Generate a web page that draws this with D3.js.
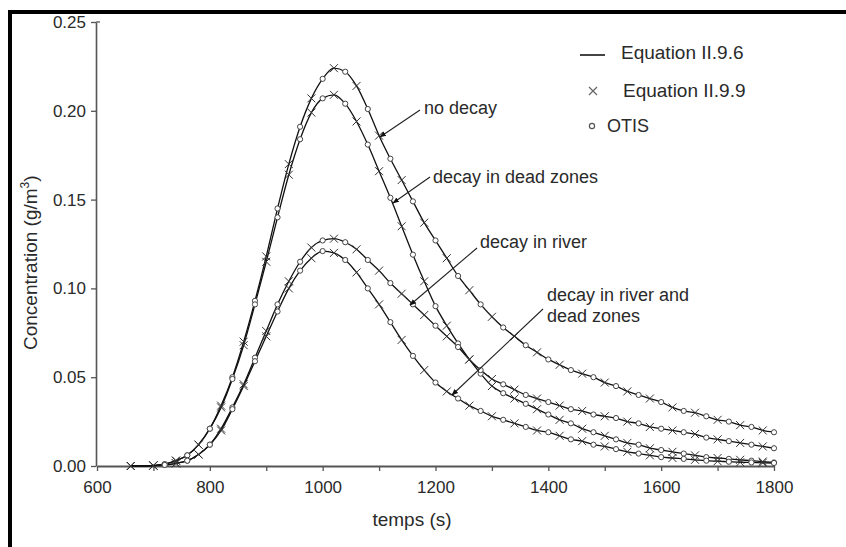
<!DOCTYPE html>
<html>
<head>
<meta charset="utf-8">
<script src="https://cdn.jsdelivr.net/npm/d3@7"></script>
<style>
  body { margin: 0; background: #fff; }
  svg { display: block; }
  text { font-family: "Liberation Sans", Arial, sans-serif; fill: #2a2a2a; }
</style>
</head>
<body>
<svg id="chart" width="846" height="547"></svg>
<script>
// time (s)
const times = [660, 680, 700, 720, 740, 760, 780, 800, 820, 840,
    860, 880, 900, 920, 940, 960, 980, 1000, 1020, 1040,
    1060, 1080, 1100, 1120, 1140, 1160, 1180, 1200, 1220, 1240,
    1260, 1280, 1300, 1320, 1340, 1360, 1380, 1400, 1420, 1440,
    1460, 1480, 1500, 1520, 1540, 1560, 1580, 1600, 1620, 1640,
    1660, 1680, 1700, 1720, 1740, 1760, 1780, 1800];

// concentration (g/m3)
const noDecay = [0, 0, 0.0003, 0.001, 0.003, 0.006, 0.012, 0.021, 0.034, 0.050,
    0.070, 0.093, 0.118, 0.145, 0.170, 0.191, 0.207, 0.218, 0.224, 0.222,
    0.214, 0.201, 0.186, 0.173, 0.161, 0.149, 0.137, 0.127, 0.117, 0.107,
    0.099, 0.091, 0.084, 0.078, 0.073, 0.068, 0.064, 0.060, 0.057, 0.054,
    0.052, 0.050, 0.047, 0.045, 0.042, 0.040, 0.038, 0.036, 0.033, 0.031,
    0.030, 0.028, 0.026, 0.025, 0.023, 0.022, 0.020, 0.019];

const deadZones = [0, 0, 0.0003, 0.001, 0.003, 0.006, 0.012, 0.021, 0.033, 0.049,
    0.068, 0.091, 0.115, 0.140, 0.164, 0.184, 0.199, 0.207, 0.209, 0.204,
    0.194, 0.181, 0.166, 0.151, 0.135, 0.119, 0.104, 0.090, 0.079, 0.069,
    0.060, 0.052, 0.045, 0.041, 0.038, 0.035, 0.032, 0.029, 0.026, 0.024,
    0.021, 0.019, 0.017, 0.015, 0.013, 0.012, 0.010, 0.009, 0.008, 0.007,
    0.006, 0.005, 0.0045, 0.004, 0.0035, 0.003, 0.0025, 0.002];

const river = [0, 0, 0.0002, 0.0006, 0.0015, 0.003, 0.0065, 0.012, 0.021, 0.033,
    0.046, 0.061, 0.076, 0.091, 0.104, 0.115, 0.123, 0.127, 0.128, 0.126,
    0.122, 0.116, 0.110, 0.103, 0.097, 0.091, 0.085, 0.079, 0.073, 0.067,
    0.060, 0.054, 0.049, 0.046, 0.043, 0.040, 0.038, 0.036, 0.034, 0.032,
    0.031, 0.029, 0.028, 0.027, 0.025, 0.024, 0.022, 0.021, 0.020, 0.019,
    0.018, 0.016, 0.015, 0.014, 0.013, 0.012, 0.011, 0.010];

const riverDead = [0, 0, 0.0002, 0.0006, 0.0015, 0.003, 0.0065, 0.012, 0.020, 0.032,
    0.045, 0.059, 0.073, 0.087, 0.100, 0.110, 0.117, 0.121, 0.120, 0.116,
    0.109, 0.100, 0.091, 0.081, 0.071, 0.062, 0.054, 0.047, 0.042, 0.038,
    0.034, 0.031, 0.028, 0.026, 0.024, 0.022, 0.020, 0.019, 0.017, 0.015,
    0.014, 0.012, 0.011, 0.0095, 0.008, 0.007, 0.006, 0.005, 0.0045, 0.004,
    0.0035, 0.003, 0.0027, 0.0024, 0.0021, 0.002, 0.0018, 0.0017];

const xTicks = [600, 700, 800, 900, 1000, 1100, 1200, 1300, 1400, 1500, 1600, 1700, 1800];
const yTicks = [0, 0.05, 0.10, 0.15, 0.20, 0.25];
const legendLabels = ["Equation II.9.6", "Equation II.9.9", "OTIS"];

const svg = d3.select("#chart");

// frame (thick black edges left & top)
svg.append("rect").attr("x", 8).attr("y", 10).attr("width", 4).attr("height", 537).attr("fill", "#000");
svg.append("rect").attr("x", 8).attr("y", 10).attr("width", 838).attr("height", 4).attr("fill", "#000");

const x = d3.scaleLinear().domain([600, 1800]).range([97, 774]);
const y = d3.scaleLinear().domain([0, 0.25]).range([466, 22]);

// axes
const xAxis = svg.append("g")
    .attr("transform", "translate(0,466)")
    .call(d3.axisBottom(x).tickValues(xTicks).tickSize(5).tickSizeOuter(0).tickPadding(10)
        .tickFormat(d => d % 200 === 0 ? d : ""));
xAxis.select(".domain").attr("stroke", "#555").attr("stroke-width", 2);
xAxis.selectAll(".tick line").attr("stroke", "#555").attr("stroke-width", 1.3);
xAxis.selectAll(".tick text").attr("font-size", 17).attr("fill", "#333")
    .style("font-family", '"Liberation Sans", Arial, sans-serif');

const yAxis = svg.append("g")
    .attr("transform", "translate(96,0)")
    .call(d3.axisLeft(y).tickValues(yTicks).tickSize(5).tickSizeOuter(0).tickPadding(5)
        .tickFormat(d3.format(".2f")));
yAxis.select(".domain").attr("stroke", "#555").attr("stroke-width", 1.6);
yAxis.selectAll(".tick line").attr("stroke", "#555").attr("stroke-width", 1.3);
yAxis.selectAll(".tick text").attr("font-size", 17).attr("fill", "#333")
    .style("font-family", '"Liberation Sans", Arial, sans-serif');
// small cap at top of y axis
svg.append("line").attr("x1", 96).attr("x2", 100).attr("y1", y(0.25)).attr("y2", y(0.25))
    .attr("stroke", "#555").attr("stroke-width", 1.3);

// axis titles
svg.append("text").attr("x", 412).attr("y", 526).attr("text-anchor", "middle")
    .attr("font-size", 19).text("temps (s)");
const yTitle = svg.append("text")
    .attr("transform", "translate(37,350) rotate(-90)")
    .attr("font-size", 19);
yTitle.append("tspan").text("Concentration (g/m");
yTitle.append("tspan").attr("font-size", 12).attr("dy", -8).text("3");
yTitle.append("tspan").attr("dy", 8).text(")");

// curves
const series = [noDecay, deadZones, river, riverDead];
const line = d3.line().x((d, i) => x(times[i])).y(d => y(d)).curve(d3.curveMonotoneX);
const plot = svg.append("g");

plot.selectAll(".curve").data(series).enter().append("path")
    .attr("class", "curve")
    .attr("d", line)
    .attr("fill", "none")
    .attr("stroke", "#111")
    .attr("stroke-width", 1.3);

const crossPath = "M-4,-4L4,4M-4,4L4,-4";

// Equation II.9.9 -> crosses, OTIS -> circles
series.forEach(s => {
    const pts = s.map((v, i) => ({ t: times[i], v, i }));
    plot.selectAll(null).data(pts.filter(p => p.i % 2 === 0)).enter().append("path")
        .attr("d", crossPath)
        .attr("transform", p => `translate(${x(p.t)},${y(p.v)})`)
        .attr("stroke", "#333").attr("stroke-width", 1).attr("fill", "none");
    plot.selectAll(null).data(pts.filter(p => p.i % 2 === 1 && p.t >= 720)).enter().append("circle")
        .attr("cx", p => x(p.t)).attr("cy", p => y(p.v)).attr("r", 2.6)
        .attr("fill", "#fff").attr("stroke", "#444").attr("stroke-width", 1);
});

// legend
const legend = svg.append("g");
legend.append("line").attr("x1", 580).attr("x2", 605).attr("y1", 55).attr("y2", 55)
    .attr("stroke", "#444").attr("stroke-width", 2);
legend.append("text").attr("x", 621).attr("y", 59).attr("font-size", 19).text(legendLabels[0]);
legend.append("path").attr("d", crossPath).attr("transform", "translate(593,91)")
    .attr("stroke", "#666").attr("stroke-width", 1.2).attr("fill", "none");
legend.append("text").attr("x", 623).attr("y", 97).attr("font-size", 19).text(legendLabels[1]);
legend.append("circle").attr("cx", 592).attr("cy", 126).attr("r", 2.6)
    .attr("fill", "#fff").attr("stroke", "#555").attr("stroke-width", 1.2);
legend.append("text").attr("x", 607).attr("y", 132).attr("font-size", 18).text(legendLabels[2]);

// annotations with arrows
svg.append("defs").append("marker")
    .attr("id", "arrow").attr("viewBox", "0 0 10 10").attr("refX", 9).attr("refY", 5)
    .attr("markerWidth", 6).attr("markerHeight", 6).attr("orient", "auto")
    .append("path").attr("d", "M0,1L10,5L0,9Z").attr("fill", "#111");

const notes = [
    { lines: ["no decay"], tx: 424, ty: 114, from: [420, 110], to: [380, 137] },
    { lines: ["decay in dead zones"], tx: 433, ty: 183, from: [430, 177], to: [393, 203] },
    { lines: ["decay in river"], tx: 480, ty: 248, from: [477, 248], to: [410, 305] },
    { lines: ["decay in river and", "dead zones"], tx: 547, ty: 301, from: [543, 309], to: [452, 395] }
];
notes.forEach(n => {
    svg.append("line")
        .attr("x1", n.from[0]).attr("y1", n.from[1]).attr("x2", n.to[0]).attr("y2", n.to[1])
        .attr("stroke", "#222").attr("stroke-width", 1.1).attr("marker-end", "url(#arrow)");
    const t = svg.append("text").attr("x", n.tx).attr("y", n.ty).attr("font-size", 18);
    n.lines.forEach((l, i) => t.append("tspan").attr("x", n.tx).attr("dy", i ? 21 : 0).text(l));
});
</script>
</body>
</html>
